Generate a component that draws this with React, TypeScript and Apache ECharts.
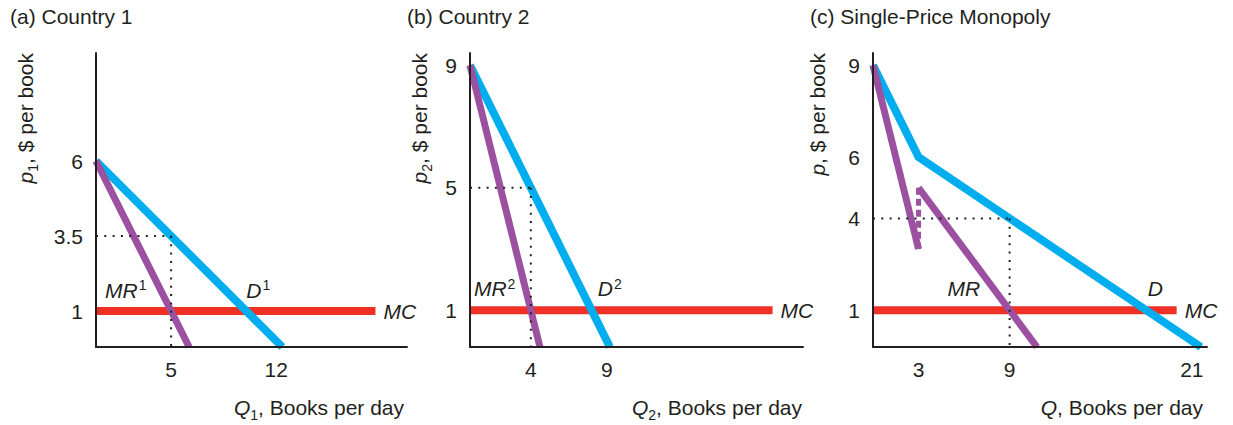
import React, { useEffect, useRef } from "react";
import * as echarts from "echarts";

// ---------- data ----------
const panelTitles = ["(a) Country 1", "(b) Country 2", "(c) Single-Price Monopoly"];

const xTicksA = [5, 12];
const yTicksA = [1, 3.5, 6];
const xTicksB = [4, 9];
const yTicksB = [1, 5, 9];
const xTicksC = [3, 9, 21];
const yTicksC = [1, 4, 6, 9];

// Panel (a) Country 1
const demandA = [[0, 6], [12.4, -0.2]];
const mrA = [[0, 6], [6.2, -0.2]];
const mcA = [[0, 1], [18.6, 1]];
const priceGuideA = [[0, 3.5], [5, 3.5]];
const qtyGuideA = [[5, 3.5], [5, -0.3]];

// Panel (b) Country 2
const demandB = [[0, 9], [9.2, -0.2]];
const mrB = [[0, 9], [4.6, -0.2]];
const mcB = [[0, 1], [19.9, 1]];
const priceGuideB = [[0, 5], [4, 5]];
const qtyGuideB = [[4, 5], [4, -0.2]];

// Panel (c) Single-price monopoly
const demandC = [[0, 9], [3, 6], [21.6, -0.2]];
const mrC1 = [[0, 9], [3, 3]];
const mrC2 = [[3, 5], [10.8, -0.2]];
const mrJump = [[3, 5], [3, 3]];
const mcC = [[0, 1], [20, 1]];
const priceGuideC = [[0, 4], [9, 4]];
const qtyGuideC = [[9, 4], [9, -0.2]];

// curve labels (data coordinates)
const curveLabelsA = [
  { name: "MR", sup: "1", q: 0.6, p: 1.7 },
  { name: "D", sup: "1", q: 10, p: 1.7 },
];
const curveLabelsB = [
  { name: "MR", sup: "2", q: 0.26, p: 1.7 },
  { name: "D", sup: "2", q: 8.4, p: 1.7 },
];
const curveLabelsC = [
  { name: "MR", sup: "", q: 4.9, p: 1.7 },
  { name: "D", sup: "", q: 18.1, p: 1.7 },
];

// ---------- styles ----------
const FONT = "'Liberation Sans', Arial, Helvetica, sans-serif";
const FS = 21;
const INK = "#231F20";
const BLUE = "#00AEEF";
const RED = "#EE3124";
const PURPLE = "#9C51A0";

const nameRich = {
  it: { fontStyle: "italic", fontSize: FS, lineHeight: 30, color: INK, fontFamily: FONT },
  rm: { fontSize: FS, lineHeight: 30, color: INK, fontFamily: FONT },
  sub: { fontSize: 14, lineHeight: 14, verticalAlign: "bottom", color: INK, fontFamily: FONT },
};

const curveRich = {
  it: { fontStyle: "italic", fontSize: FS, lineHeight: 24, color: INK, fontFamily: FONT },
  sup: { fontSize: 14, lineHeight: 14, verticalAlign: "top", color: INK, fontFamily: FONT, padding: [0, 0, 0, 1] },
};

const grids = [
  { left: 96, top: 53, width: 311, height: 294 },
  { left: 470, top: 53, width: 333, height: 294 },
  { left: 873, top: 53, width: 334, height: 294 },
];

function makeXAxis(i: number, max: number, ticks: number[], name: string, gap: number) {
  return {
    type: "value",
    gridIndex: i,
    min: 0,
    max,
    z: 10,
    name,
    nameLocation: "end",
    nameGap: gap,
    nameTextStyle: { align: "right", verticalAlign: "top", padding: [45, 0, 0, 0], rich: nameRich },
    axisLine: { show: true, onZero: false, lineStyle: { color: INK, width: 2 } },
    axisTick: { show: false },
    splitLine: { show: false },
    axisLabel: { customValues: ticks, margin: 12, fontSize: FS, color: INK, fontFamily: FONT },
  };
}

function makeYAxis(i: number, max: number, ticks: number[], name: string, pad: number) {
  return {
    type: "value",
    gridIndex: i,
    min: -0.2,
    max,
    z: 10,
    name,
    nameLocation: "end",
    nameRotate: 90,
    nameGap: 0,
    nameTextStyle: { align: "right", verticalAlign: "bottom", padding: [0, 0, pad, 0], rich: nameRich },
    axisLine: { show: true, onZero: false, lineStyle: { color: INK, width: 2 } },
    axisTick: { show: false },
    splitLine: { show: false },
    axisLabel: { customValues: ticks, margin: 13, fontSize: FS, color: INK, fontFamily: FONT },
  };
}

function line(data: number[][], i: number, color: string, width: number, z: number, extra: any = {}) {
  return {
    type: "line",
    data,
    xAxisIndex: i,
    yAxisIndex: i,
    symbol: "none",
    silent: true,
    z,
    lineStyle: { color, width, cap: "butt", join: "miter" },
    ...extra,
  };
}

function guide(data: number[][], i: number) {
  return line(data, i, INK, 2, 8, {
    clip: false,
    lineStyle: { color: INK, width: 2, type: [2, 6.3], cap: "butt" },
  });
}

const mcLabel = {
  endLabel: {
    show: true,
    formatter: "MC",
    distance: 8,
    color: INK,
    fontSize: FS,
    fontStyle: "italic",
    fontFamily: FONT,
  },
};

function labels(list: { name: string; sup: string; q: number; p: number }[], i: number) {
  return {
    type: "scatter",
    xAxisIndex: i,
    yAxisIndex: i,
    symbolSize: 0,
    silent: true,
    z: 9,
    itemStyle: { color: INK, opacity: 1 },
    data: list.map((l) => ({
      value: [l.q, l.p],
      label: { formatter: l.sup ? `{it|${l.name}}{sup|${l.sup}}` : `{it|${l.name}}` },
    })),
    label: {
      show: true,
      position: "right",
      distance: 0,
      color: INK,
      opacity: 1,
      fontSize: FS,
      fontFamily: FONT,
      rich: curveRich,
    },
  };
}

export default function App() {
  const ref = useRef<HTMLDivElement>(null);

  useEffect(() => {
    if (!ref.current) return;
    const chart = echarts.init(ref.current, null, { renderer: "svg" });
    const titleLefts = [10, 407, 810];
    chart.setOption({
      animation: false,
      backgroundColor: "#ffffff",
      title: panelTitles.map((t, i) => ({
        text: t,
        left: titleLefts[i],
        top: 6,
        padding: 0,
        textStyle: { fontSize: FS, fontWeight: "normal", color: INK, fontFamily: FONT },
      })),
      grid: grids,
      xAxis: [
        makeXAxis(0, 20.7, xTicksA, "{it|Q}{sub|1}{rm|, Books per day}", -3),
        makeXAxis(1, 21.9, xTicksB, "{it|Q}{sub|2}{rm|, Books per day}", -1),
        makeXAxis(2, 22, xTicksC, "{it|Q}{rm|, Books per day}", -4),
      ],
      yAxis: [
        makeYAxis(0, 9.6, yTicksA, "{it|p}{sub|1}{rm|, $ per book}", 56),
        makeYAxis(1, 9.4, yTicksB, "{it|p}{sub|2}{rm|, $ per book}", 36),
        makeYAxis(2, 9.4, yTicksC, "{it|p}{rm|, $ per book}", 41),
      ],
      series: [
        // panel a
        line(mcA, 0, RED, 8, 2, mcLabel),
        line(demandA, 0, BLUE, 8, 3),
        line(mrA, 0, PURPLE, 7, 4),
        guide(priceGuideA, 0),
        guide(qtyGuideA, 0),
        labels(curveLabelsA, 0),
        // panel b
        line(mcB, 1, RED, 8, 2, mcLabel),
        line(demandB, 1, BLUE, 8, 3),
        line(mrB, 1, PURPLE, 7, 4),
        guide(priceGuideB, 1),
        guide(qtyGuideB, 1),
        labels(curveLabelsB, 1),
        // panel c
        line(mcC, 2, RED, 8, 2, mcLabel),
        line(demandC, 2, BLUE, 8, 3),
        line(mrC1, 2, PURPLE, 7, 4),
        line(mrC2, 2, PURPLE, 7, 4),
        line(mrJump, 2, PURPLE, 5, 4, {
          lineStyle: { color: PURPLE, width: 5, type: [7, 4], cap: "butt" },
        }),
        guide(priceGuideC, 2),
        guide(qtyGuideC, 2),
        labels(curveLabelsC, 2),
      ],
    });
    return () => chart.dispose();
  }, []);

  return (
    <div
      ref={ref}
      style={{ position: "fixed", left: 0, top: 0, width: 1233, height: 425, background: "#fff" }}
    />
  );
}
